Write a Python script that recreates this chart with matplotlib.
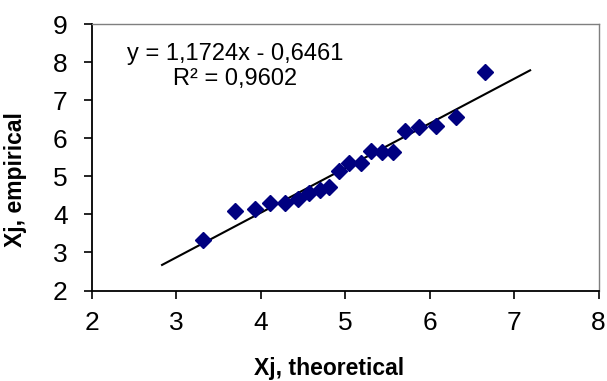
import numpy
from matplotlib import pyplot as plt

plt.rcParams['font.family'] = ['Liberation Sans', 'DejaVu Sans']

# theoretical vs empirical quantiles
x_theor = [3.32, 3.69, 3.93, 4.11, 4.29, 4.44, 4.57, 4.70, 4.81, 4.93,
           5.05, 5.19, 5.31, 5.43, 5.57, 5.71, 5.87, 6.07, 6.31, 6.66]
y_emp   = [3.33, 4.10, 4.13, 4.29, 4.31, 4.40, 4.55, 4.64, 4.71, 5.15,
           5.36, 5.34, 5.67, 5.65, 5.65, 6.20, 6.29, 6.33, 6.57, 7.73]

slope, intercept = 1.1724, -0.6461
r2               = 0.9602
fit_x            = [2.83, 7.19]

fig = plt.figure(figsize=(6.07, 3.81), dpi=100)
ax  = fig.add_axes([92/607, 1 - 290.5/381, 506.5/607, 266.5/381])

xx = numpy.asarray(fit_x)
ax.plot(xx, slope * xx + intercept, '-k', lw=1.5)
ax.plot(x_theor, y_emp, 'D', color='#000080', ms=8.5, mec='#000080')

ax.set_xlim(2, 8)
ax.set_ylim(2, 9)
ax.set_xticks(range(2, 9))
ax.set_yticks(range(2, 10))
ax.tick_params(direction='out', length=5.5, width=1.2, labelsize=19, pad=9, color='k')
ax.tick_params(axis='y', pad=12)

for side in ('left', 'bottom'):
  ax.spines[side].set_color('k')
  ax.spines[side].set_linewidth(1.3)
for side in ('top', 'right'):
  ax.spines[side].set_color('#7f7f7f')
  ax.spines[side].set_linewidth(1.0)

ax.set_xlabel('Xj, theoretical', fontsize=16.5, fontweight='bold', va='center')
ax.set_ylabel('Xj, empirical', fontsize=16.5, fontweight='bold', va='center')
ax.xaxis.set_label_coords(0.468, -0.291)
ax.yaxis.set_label_coords(-0.152, 0.418)

eq = f"y = {slope:.4f}x - {abs(intercept):.4f}\nR² = {r2:.4f}".replace('.', ',')
ax.text(0.283, 0.840, eq, transform=ax.transAxes, ha='center', va='center',
        fontsize=17, linespacing=1.15)

fig.savefig('out.png', dpi=100)
